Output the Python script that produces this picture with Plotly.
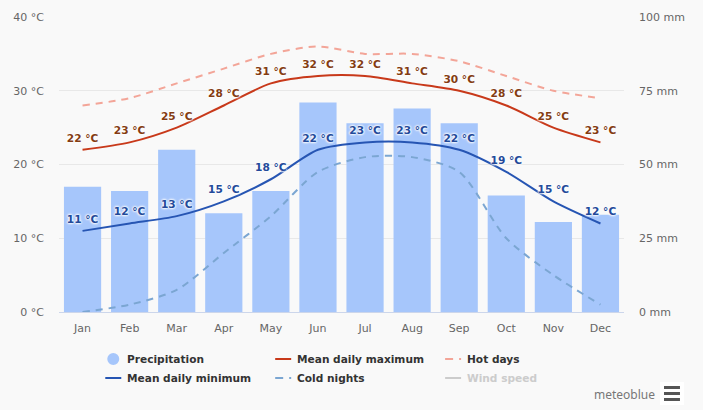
import plotly.graph_objects as go

months = ["Jan", "Feb", "Mar", "Apr", "May", "Jun", "Jul", "Aug", "Sep", "Oct", "Nov", "Dec"]
precipitation = [42.5, 41, 55, 33.5, 41, 71, 64, 69, 64, 39.5, 30.5, 33]
mean_max = [22, 23, 25, 28, 31, 32, 32, 31, 30, 28, 25, 23]
mean_min = [11, 12, 13, 15, 18, 22, 23, 23, 22, 19, 15, 12]
hot_days = [28, 29, 31, 33, 35, 36, 35, 35, 34, 32, 30, 29]
cold_nights = [0, 1, 3, 8, 13, 19, 21, 21, 19, 10, 5, 1]

temp_ticks = [0, 10, 20, 30, 40]
temp_labels = ["0 °C", "10 °C", "20 °C", "30 °C", "40 °C"]
rain_ticks = [0, 25, 50, 75, 100]
rain_labels = ["0 mm", "25 mm", "50 mm", "75 mm", "100 mm"]

FONT = "DejaVu Sans"
HALO = "0 0 2px #fff, 0 0 2px #fff, 0 0 3px #fff, 0 0 3px #fff"
W, H = 703, 410
L, R, T, B = 58.7, 79, 17, 98


def px(x):
    return (x - L) / (W - L - R)


def py(y):
    return 1 - (y - T) / (H - T - B)


fig = go.Figure()

# bars go on the primary axis so that the lines are drawn above them
fig.add_trace(go.Bar(
    x=months, y=precipitation, yaxis="y", name="Precipitation",
    marker=dict(color="#a6c6fb", line_width=0),
))
fig.add_trace(go.Scatter(
    x=months, y=hot_days, yaxis="y2", mode="lines", name="Hot days",
    line=dict(color="#f3a598", width=2, dash="7px,6px", shape="spline", smoothing=0.75),
))
fig.add_trace(go.Scatter(
    x=months, y=cold_nights, yaxis="y2", mode="lines", name="Cold nights",
    line=dict(color="#7ba6d2", width=2, dash="7px,6px", shape="spline", smoothing=0.75),
))
# invisible markers only push the value labels away from the line
fig.add_trace(go.Scatter(
    x=months, y=mean_max, yaxis="y2", mode="lines+markers+text", name="Mean daily maximum",
    line=dict(color="#c8391a", width=2, shape="spline", smoothing=0.75),
    marker=dict(size=7, opacity=0),
    text=[f"{v} °C" for v in mean_max], textposition="top center",
    textfont=dict(family=FONT, size=10.6, color="#843c12", weight="bold", shadow=HALO),
))
fig.add_trace(go.Scatter(
    x=months, y=mean_min, yaxis="y2", mode="lines+markers+text", name="Mean daily minimum",
    line=dict(color="#2655b3", width=2, shape="spline", smoothing=0.75),
    marker=dict(size=7, opacity=0),
    text=[f"{v} °C" for v in mean_min], textposition="top center",
    textfont=dict(family=FONT, size=10.6, color="#234a9a", weight="bold", shadow=HALO),
))

# legend by hand, the built-in one cannot do short swatches
shapes = []
annotations = []
legend_rows = [
    ("Precipitation", 105, 359, "#a6c6fb", "dot", "#333333"),
    ("Mean daily maximum", 275, 359, "#c8391a", "solid", "#333333"),
    ("Hot days", 445, 359, "#f3a598", "dash", "#333333"),
    ("Mean daily minimum", 105, 378, "#2655b3", "solid", "#333333"),
    ("Cold nights", 275, 378, "#7ba6d2", "dash", "#333333"),
    ("Wind speed", 445, 378, "#cccccc", "solid", "#cccccc"),
]
for name, x, y, color, kind, text_color in legend_rows:
    if kind == "dot":
        shapes.append(dict(type="circle", xref="paper", yref="paper", x0=px(107), x1=px(119),
                           y0=py(y + 6), y1=py(y - 6), fillcolor=color, line_width=0))
    elif kind == "solid":
        shapes.append(dict(type="line", xref="paper", yref="paper", x0=px(x), x1=px(x + 16),
                           y0=py(y), y1=py(y), line=dict(color=color, width=2)))
    else:
        for a, b in [(0, 8), (14, 16)]:
            shapes.append(dict(type="line", xref="paper", yref="paper", x0=px(x + a), x1=px(x + b),
                               y0=py(y), y1=py(y), line=dict(color=color, width=2)))
    annotations.append(dict(
        text=name, xref="paper", yref="paper", x=px(x + 20), y=py(y), xanchor="left", yanchor="middle",
        showarrow=False,
        font=dict(family=FONT, size=10.6, color=text_color, weight="bold"),
    ))

annotations.append(dict(
    text="meteoblue", xref="paper", yref="paper", x=px(624), y=py(394), xanchor="center",
    yanchor="middle", showarrow=False, font=dict(family="Noto Sans", size=12, color="#777777"),
))
shapes.append(dict(type="rect", xref="paper", yref="paper", x0=px(660), x1=px(684), y0=py(405), y1=py(382),
                   fillcolor="#ffffff", line_width=0))
for top in [386, 392, 398]:
    shapes.append(dict(type="rect", xref="paper", yref="paper", x0=px(664), x1=px(680),
                       y0=py(top + 3), y1=py(top), fillcolor="#555555", line_width=0))

fig.update_layout(
    width=W, height=H,
    margin=dict(l=L, r=R, t=T, b=B),
    paper_bgcolor="#f9f9f9", plot_bgcolor="#f9f9f9",
    font=dict(family=FONT, size=11, color="#666666"),
    bargap=0.21,
    showlegend=False,
    xaxis=dict(
        type="category", range=[-0.5, 11.5], showgrid=False, showline=True, linecolor="#ccd6eb", linewidth=1,
        ticks="", ticklabelstandoff=6,
    ),
    yaxis=dict(
        side="right", range=[0, 100], tickvals=rain_ticks, ticktext=rain_labels,
        gridcolor="#e8e8e8", gridwidth=1, zeroline=False, ticklabelstandoff=14,
    ),
    yaxis2=dict(
        side="left", overlaying="y", range=[0, 40], tickvals=temp_ticks, ticktext=temp_labels,
        showgrid=False, zeroline=False, ticklabelstandoff=14,
    ),
    annotations=annotations,
    shapes=shapes,
)

fig.write_html("out.html", config=dict(displayModeBar=False), post_script="document.body.style.margin='0';")
